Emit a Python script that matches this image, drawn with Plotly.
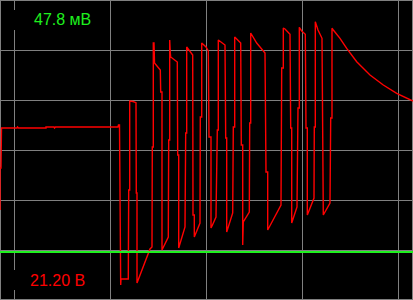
import plotly.graph_objects as go

# Oscilloscope capture: time in samples (1 sample ~ 1 screen column, 96 samples/div),
# level in ADC counts (50 counts/div, counted upward from the bottom edge).
red_t = [0, 0, 1, 1.5, 17, 17.5, 18.5, 46, 46, 54, 54.5, 55.5, 118, 118.5, 119.5,
         120, 120.7, 120.7, 121, 128.3,
         128.7, 129.7, 129.7, 133, 136,
         136.3, 137, 137, 143, 150, 152,
         152.3, 153.3, 153.3, 154, 154.3, 154.5, 160.3,
         160.7, 162, 162, 168.3,
         168.7, 169.7, 169.7, 170.3, 170.7, 177.3,
         177.7, 178.7, 178.7, 185,
         185.7, 186.7, 186.7, 192.7,
         193, 194.3, 194.3, 200,
         200.3, 201.7, 201.7, 204, 206, 208.3,
         209, 211, 211, 212, 216,
         217.3, 218.3, 218.3, 221, 225,
         225.7, 226.7, 226.7, 232.7,
         233.3, 234.7, 234.7, 240.7,
         241.3, 242.7, 242.7, 243.3, 249.3,
         249.7, 250.7, 250.7, 256.7, 265,
         266, 267.7, 267.7, 281,
         281.7, 283.3, 283.3, 285, 290,
         290.7, 291.7, 291.7, 297,
         298, 299.3, 299.3, 301.7, 305.3,
         306, 307.3, 307.3, 314,
         314.3, 315.3, 315.3, 318, 322,
         322.7, 323.3, 323.3, 330,
         330.7, 332, 332, 333.3, 340, 346.7, 356.7, 370, 383.3, 396.7, 413]
red_v = [90, 132, 132, 172, 172, 173, 172, 172, 173, 173, 172, 173, 173, 175, 175,
         95, 95, 15, 21, 21,
         110, 110, 199, 198.5, 197.3,
         107, 107, 17, 32, 51, 53,
         153, 153, 257, 257, 246, 237, 230,
         208, 208, 50, 63,
         160, 160, 260, 247, 243, 238,
         145, 145, 52, 73,
         167, 167, 253, 245,
         85, 85, 63, 77,
         183, 183, 257, 255, 253, 249,
         163, 163, 72, 74, 83,
         170, 170, 260, 258, 255,
         162, 162, 68, 87,
         173, 173, 263, 257,
         155, 155, 55, 78, 88,
         177, 177, 267, 257, 247,
         128, 128, 70, 95,
         232, 232, 272, 271, 265.7,
         172, 172, 77, 93,
         192, 192, 272.7, 269, 265.7,
         172, 172, 85, 102,
         173, 173, 278.3, 270, 261.7,
         173, 173, 85, 97,
         182, 182, 271.7, 270, 261.7, 251.7, 238.3, 225, 215, 206.7, 199]

green_t = [0, 413]
green_v = [48, 48]

ch1_label = "47.8 мВ"
ch2_label = "21.20 В"

GRID = "#808080"
RED = "#ff0000"
GREEN = "#1ef01e"

fig = go.Figure()
fig.add_trace(go.Scatter(x=red_t, y=red_v, mode="lines",
                         line=dict(color=RED, width=1.4), hoverinfo="skip"))
fig.add_trace(go.Scatter(x=green_t, y=green_v, mode="lines",
                         line=dict(color=GREEN, width=2), hoverinfo="skip"))

W, H = 413, 300
fig.update_layout(
    width=W, height=H, autosize=False,
    margin=dict(l=0, r=0, t=0, b=0, pad=0),
    paper_bgcolor="black", plot_bgcolor="black",
    showlegend=False,
    xaxis=dict(range=[0, 413], showgrid=True, gridcolor=GRID, gridwidth=1,
               tick0=14.5, dtick=96, zeroline=False, showticklabels=False,
               ticks="", showline=False, fixedrange=True),
    yaxis=dict(range=[0, 300], showgrid=True, gridcolor=GRID, gridwidth=1,
               tick0=49.5, dtick=50, zeroline=False, showticklabels=False,
               ticks="", showline=False, fixedrange=True),
    shapes=[
        dict(type="rect", xref="paper", yref="paper", x0=0, x1=1, y0=0, y1=1,
             line=dict(color=GRID, width=2), fillcolor="rgba(0,0,0,0)", layer="below"),
        dict(type="rect", xref="paper", yref="paper", x0=8 / W, x1=100 / W,
             y0=1 - 30 / H, y1=1 - 10 / H, line=dict(width=0), fillcolor="black",
             layer="above"),
        dict(type="rect", xref="paper", yref="paper", x0=8 / W, x1=100 / W,
             y0=1 - 290 / H, y1=1 - 270 / H, line=dict(width=0), fillcolor="black",
             layer="above"),
    ],
    annotations=[
        dict(text=ch1_label, xref="paper", yref="paper", x=62.5 / W, y=1 - 20 / H,
             xanchor="center", yanchor="middle", showarrow=False,
             font=dict(family="Liberation Sans", size=16, color=GREEN)),
        dict(text=ch2_label, xref="paper", yref="paper", x=57.5 / W, y=1 - 280 / H,
             xanchor="center", yanchor="middle", showarrow=False,
             font=dict(family="Liberation Sans", size=16, color=RED)),
    ],
)

fig.write_html("out.html", config={"displayModeBar": False, "staticPlot": True})
